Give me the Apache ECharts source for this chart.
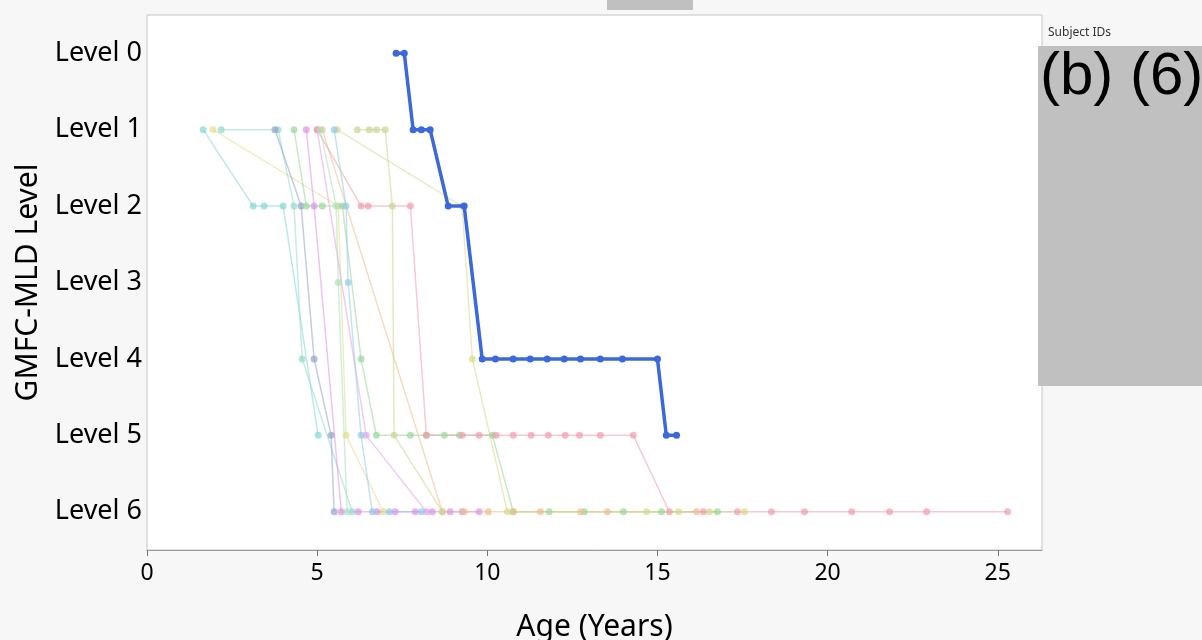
<!DOCTYPE html>
<html>
<head>
    <meta charset="utf-8">
    <script type="text/javascript" src="https://cdn.jsdelivr.net/npm/echarts@6/dist/echarts.min.js"></script>
    <style>
      html, body { margin: 0; padding: 0; background: #f7f7f7; }
    </style>
</head>
<body>
    <div id="main" style="width: 1202px;height:640px;"></div>
    <script type="text/javascript">
    // y categories, top to bottom
    let levelLabels = ['Level 0', 'Level 1', 'Level 2', 'Level 3', 'Level 4', 'Level 5', 'Level 6']
    let xTicks = [0, 5, 10, 15, 20, 25]

    // each subject: [age in years, level index]
    let subjTealA = [[1.65,1],[3.12,2],[3.44,2],[4.00,2],[5.03,5]]
    let subjYellow = [[1.94,1],[5.62,2],[5.85,5],[6.94,6]]
    let subjTealB = [[2.18,1],[3.85,1],[4.32,2],[4.56,4],[6.03,6]]
    let subjGray = [[3.76,1],[4.53,2],[4.91,4],[5.41,5],[5.50,6]]
    let subjGreen = [[4.32,1],[4.68,2],[5.15,2],[5.74,2],[6.29,4],[6.74,5],[7.74,5],[8.21,5],[8.74,5],[9.18,5],[10.15,5],
                     [10.76,6],[11.82,6],[12.85,6],[14.00,6],[15.12,6],[16.76,6]]
    let subjMagenta = [[4.68,1],[4.91,2],[5.71,6],[6.21,6],[6.76,6],[7.29,6],[7.88,6],[8.38,6],[8.91,6],[9.26,6],[9.76,6]]
    let subjOrchid = [[5.00,1],[6.44,5],[8.21,6]]
    let subjPeach = [[5.15,1],[8.68,6],[9.32,6],[10.03,6],[10.76,6],[11.56,6],[12.74,6],[13.53,6],[16.15,6]]
    let subjPink = [[5.00,1],[6.29,2],[6.50,2],[7.74,2],[8.21,5],[9.26,5],[9.76,5],[10.26,5],[10.76,5],[11.29,5],[11.79,5],
                    [12.29,5],[12.71,5],[13.32,5],[14.29,5],[15.35,6],[16.35,6],[17.35,6],[18.35,6],[19.32,6],[20.71,6],
                    [21.82,6],[22.91,6],[25.29,6]]
    let subjOliveA = [[6.18,1],[6.53,1],[6.74,1],[7.00,1],[7.21,2],[7.26,5],[8.68,6]]
    let subjOliveB = [[5.59,1],[9.26,2],[9.56,4],[10.59,6],[14.68,6],[15.62,6],[16.53,6],[17.56,6]]
    let subjLightBlue = [[5.50,1],[5.85,2],[5.91,3],[6.29,5],[6.62,6],[7.12,6],[8.06,6]]
    let subjMint = [[5.09,1],[5.56,2],[5.62,3],[5.88,6]]
    // highlighted subject
    let subjFocus = [[7.32,0],[7.56,0],[7.82,1],[8.06,1],[8.32,1],[8.85,2],[9.32,2],[9.85,4],[10.24,4],[10.76,4],
                     [11.26,4],[11.76,4],[12.26,4],[12.74,4],[13.32,4],[13.97,4],[15.00,4],[15.26,5],[15.56,5]]

    let others = [
        [subjTealA, '#86d6d6'],
        [subjYellow, '#e6dc8c'],
        [subjTealB, '#92dccb'],
        [subjGray, '#93a3c8'],
        [subjGreen, '#9ad69a'],
        [subjMagenta, '#dc94e6'],
        [subjOrchid, '#e6a2e6'],
        [subjPeach, '#eebd8c'],
        [subjPink, '#f09cac'],
        [subjOliveA, '#ccd494'],
        [subjOliveB, '#d6da8c'],
        [subjLightBlue, '#92cce2'],
        [subjMint, '#aae2bc']
    ]

    let font = 'Noto Sans'
    let series = others.map(function (s, i) {
        return {
            name: 'S' + i,
            type: 'line',
            data: s[0],
            symbol: 'circle',
            symbolSize: 7,
            color: s[1],
            lineStyle: { width: 1.5, opacity: 0.55 },
            itemStyle: { opacity: 0.7 },
            animation: false
        }
    })
    series.push({
        name: 'focus',
        type: 'line',
        data: subjFocus,
        symbol: 'circle',
        symbolSize: 7,
        color: '#3c68dc',
        lineStyle: { width: 3.5 },
        z: 10,
        animation: false
    })

    var myChart = echarts.init(document.getElementById('main'));
    let option = {
        backgroundColor: '#f7f7f7',
        grid: {
            left: 147, right: 160, top: 15, bottom: 90,
            outerBoundsMode: 'none',
            show: true, backgroundColor: '#fff', borderColor: '#c4c4c4', borderWidth: 1
        },
        xAxis: {
            type: 'value',
            min: 0, max: 26.3, interval: 5,
            name: 'Age (Years)',
            nameLocation: 'middle',
            nameGap: 62,
            nameTextStyle: { fontFamily: font, fontSize: 30, color: '#000' },
            axisLine: { show: true, lineStyle: { color: '#999' } },
            axisTick: { show: true, length: 6, lineStyle: { color: '#777' } },
            axisLabel: {
                fontFamily: font, fontSize: 23, color: '#000', margin: 12, showMaxLabel: false,
                formatter: function (v) { return xTicks.indexOf(v) >= 0 ? v : '' }
            },
            splitLine: { show: false }
        },
        yAxis: {
            type: 'category',
            data: levelLabels,
            inverse: true,
            boundaryGap: true,
            name: 'GMFC-MLD Level',
            nameLocation: 'middle',
            nameGap: 104,
            nameTextStyle: { fontFamily: font, fontSize: 30, color: '#000' },
            axisLine: { show: false },
            axisTick: { show: false },
            axisLabel: { fontFamily: font, fontSize: 27, color: '#000', margin: 5 },
            splitLine: { show: false }
        },
        graphic: [
            { type: 'rect', left: 607, top: 0, shape: { width: 86, height: 10 }, style: { fill: '#c0c0c0' } },
            { type: 'text', left: 1048, top: 27, style: { text: 'Subject IDs', fontFamily: font, fontSize: 12, fill: '#333' } },
            { type: 'rect', left: 1038, top: 46, shape: { width: 164, height: 340 }, style: { fill: '#c0c0c0' } },
            { type: 'text', left: 1040, top: 47, style: { text: '(b) (6)', fontFamily: 'Liberation Sans', fontSize: 60, fill: '#000' } }
        ],
        series: series
    };
    myChart.setOption(option);
    </script>
</body>
</html>
